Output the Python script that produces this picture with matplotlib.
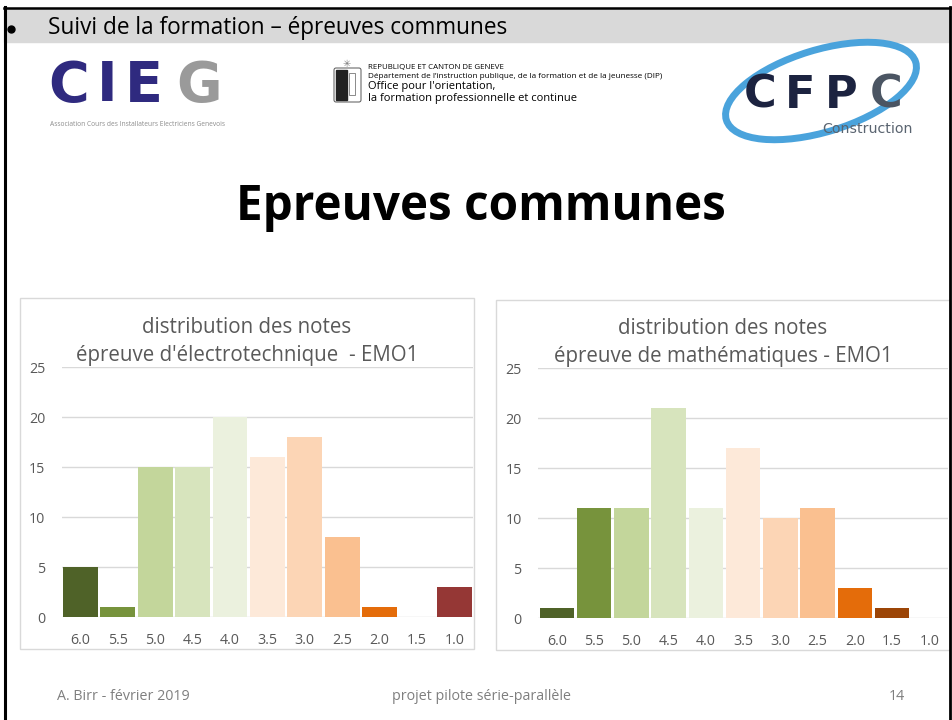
import numpy as np
import matplotlib
matplotlib.use("Agg")
import matplotlib.pyplot as plt
import matplotlib.patches as mpatches

# grade categories and counts
notes = ["6.0", "5.5", "5.0", "4.5", "4.0", "3.5", "3.0", "2.5", "2.0", "1.5", "1.0"]
electro = [5, 1, 15, 15, 20, 16, 18, 8, 1, 0, 3]
maths = [1, 11, 11, 21, 11, 17, 10, 11, 3, 1, 0]
yticks = [0, 5, 10, 15, 20, 25]

colors_electro = ["#4f6228", "#77933c", "#c3d69b", "#d7e4bd", "#ebf1de", "#fde9d9",
                  "#fcd5b5", "#fac090", "#e46c0a", "#984807", "#953735"]
colors_maths = ["#4f6228", "#77933c", "#c3d69b", "#d7e4bd", "#ebf1de", "#fde9d9",
                "#fcd5b5", "#fac090", "#e46c0a", "#9c4507", "#953735"]

W, H = 952, 720
plt.rcParams['font.family'] = ["Open Sans", 'DejaVu Sans']

fig = plt.figure(figsize=(W / 100, H / 100), dpi=100)
fig.patch.set_facecolor("white")

# background layer in pixel coordinates
bg = fig.add_axes([0, 0, 1, 1])
bg.set_xlim(0, W)
bg.set_ylim(H, 0)
bg.axis("off")

# header band + slide border
bg.add_patch(mpatches.Rectangle((4, 8), W - 6, 34, color="#d9d9d9", zorder=0))
bg.plot([4.5, 4.5], [7, H], color="black", lw=2.2)
bg.plot([949.5, 949.5], [7, H], color="black", lw=2)
bg.plot([4, W], [7.5, 7.5], color="black", lw=1.8)
bg.plot([11], [29], marker="o", ms=5, color="black")
bg.text(48, 28.5, "Suivi de la formation – épreuves communes", fontsize=16.3,
        va="center", ha="left", color="black")

# CIEG logo (rough text version)
for ch, cx, c in zip("CIEG", [69, 107, 144, 199], ["#2f2a7f", "#2f2a7f", "#2f2a7f", "#9a9a9a"]):
    bg.text(cx, 86, ch, fontsize=40, fontweight="heavy", color=c,
            va="center", ha="center", family="DejaVu Sans")
bg.text(50, 125, "Association Cours des Installateurs Electriciens Genevois",
        fontsize=4.8, color="#8c8c8c", va="center", ha="left")

# Geneva emblem (rough) + text
bg.add_patch(mpatches.FancyBboxPatch((336, 70), 23, 30, boxstyle="round,pad=2",
                                     fc="white", ec="#555555", lw=0.7))
bg.add_patch(mpatches.Rectangle((336, 70), 11, 30, color="#222222"))
bg.add_patch(mpatches.Rectangle((349, 73), 6, 22, fc="white", ec="#777777", lw=0.6))
bg.text(347, 64, "✳", fontsize=7, color="#777777", ha="center", va="center", family="DejaVu Sans")
bg.text(368, 68, "REPUBLIQUE ET CANTON DE GENEVE", fontsize=5.7, va="center", ha="left")
bg.text(368, 77, "Département de l’instruction publique, de la formation et de la jeunesse (DIP)",
        fontsize=5.9, va="center", ha="left")
bg.text(368, 86, "Office pour l'orientation,", fontsize=8.0, va="center", ha="left")
bg.text(368, 98, "la formation professionnelle et continue", fontsize=8.0, va="center", ha="left")

# CFPC logo (rough)
bg.add_patch(mpatches.Ellipse((821, 91), 198, 82, angle=-17, fill=False,
                              ec="#4aa3dc", lw=5))
for ch, cx, c in zip("CFPC", [760, 800, 841, 886], ["#1c2340", "#1c2340", "#1c2340", "#4b5563"]):
    bg.text(cx, 95, ch, fontsize=32, fontweight="heavy", color=c,
            va="center", ha="center", family="DejaVu Sans")
bg.text(913, 129, "Construction", fontsize=10.2, color="#5a6470", va="center", ha="right",
        family="DejaVu Sans")

# big title
bg.text(481, 208, "Epreuves communes", fontsize=34.3, fontweight="bold",
        va="center", ha="center", color="black")

# footer
bg.text(57, 696, "A. Birr - février 2019", fontsize=10.3, color="#7f7f7f", va="center", ha="left")
bg.text(481, 696, "projet pilote série-parallèle", fontsize=10.3, color="#7f7f7f",
        va="center", ha="center")
bg.text(905, 696, "14", fontsize=10.3, color="#7f7f7f", va="center", ha="right")


def chart(box, plot, values, colors, title):
    bx0, by0, bx1, by1 = box
    bg.add_patch(mpatches.Rectangle((bx0, by0), bx1 - bx0, by1 - by0, fc="white",
                                    ec="#d9d9d9", lw=1, zorder=1))
    px0, py0, px1, py1 = plot
    ax = fig.add_axes([px0 / W, 1 - py1 / H, (px1 - px0) / W, (py1 - py0) / H])
    ax.set_facecolor("none")
    x = np.arange(len(notes))
    ax.bar(x, values, width=0.93, color=colors, zorder=3)
    ax.set_xlim(-0.5, len(notes) - 0.5)
    ax.set_ylim(0, 25)
    ax.set_yticks(yticks)
    ax.set_xticks(x)
    ax.set_xticklabels(notes)
    ax.yaxis.grid(True, color="#d9d9d9", lw=1, zorder=0)
    ax.set_axisbelow(True)
    for s in ax.spines.values():
        s.set_visible(False)
    ax.tick_params(length=0, colors="#595959", labelsize=10.3)
    ax.tick_params(axis="y", pad=12)
    ax.tick_params(axis="x", pad=11)
    cx = (bx0 + bx1) / 2
    bg.text(cx, py0 - 40, title[0], fontsize=14.8, color="#595959", ha="center", va="center")
    bg.text(cx, py0 - 11.5, title[1], fontsize=14.8, color="#595959", ha="center", va="center")
    return ax


chart((20, 298, 474, 649), (61.7, 367.3, 473, 617.3), electro, colors_electro,
      ["distribution des notes", "épreuve d'électrotechnique  - EMO1"])
chart((496, 300, 950, 650), (538.3, 368.3, 948, 618.3), maths, colors_maths,
      ["distribution des notes", "épreuve de mathématiques - EMO1"])

fig.savefig("out.png", dpi=100)
